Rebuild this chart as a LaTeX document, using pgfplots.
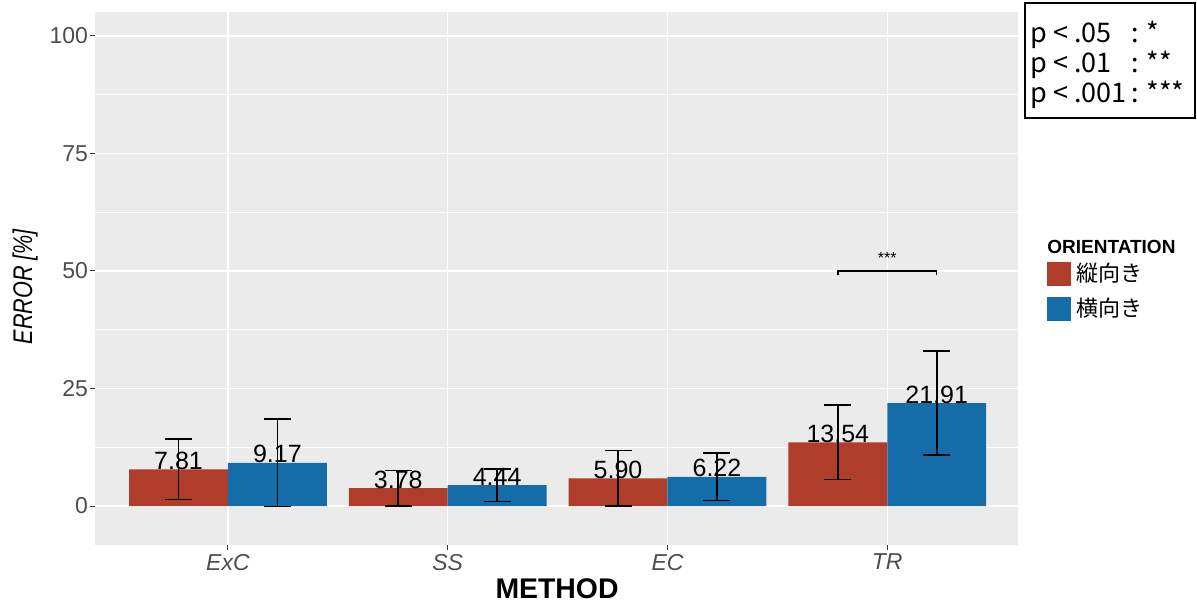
\documentclass[border=0pt]{standalone}
\usepackage{pgfplots}
\pgfplotsset{compat=1.18}
\usepackage{pgfplotstable}
\usetikzlibrary{calc}
\usepackage{fontspec}
\setmainfont{Liberation Sans}
\newfontfamily\jp{Noto Sans CJK JP}
\definecolor{panel}{HTML}{EBEBEB}
\definecolor{cred}{HTML}{B03C2A}
\definecolor{cblue}{HTML}{146CA8}
\definecolor{tickc}{HTML}{4D4D4D}
\definecolor{tickl}{HTML}{333333}

\pgfplotstableread{
x y e
0.775 7.81 6.45
1.775 3.78 3.80
2.775 5.90 5.90
3.775 13.54 7.90
}\tatetable
\pgfplotstableread{
x y e
1.225 9.17 9.30
2.225 4.44 3.50
3.225 6.22 5.03
4.225 21.91 11.10
}\yokotable

\begin{document}
\begin{tikzpicture}
\begin{axis}[
  name=ax,
  scale only axis, width=461.5pt, height=266.5pt,
  xmin=0.395, xmax=4.595, ymin=-8.3, ymax=105.1,
  axis background/.style={fill=panel},
  axis line style={draw=none},
  xtick={1,2,3,4}, xticklabels={ExC,SS,EC,TR},
  ytick={0,25,50,75,100},
  minor ytick={12.5,37.5,62.5,87.5},
  grid=both,
  major grid style={white, line width=0.7pt},
  minor grid style={white, line width=0.35pt},
  tick style={tickl, line width=0.5pt},
  major tick length=2.5pt, minor tick length=0pt,
  tick align=outside,
  xtick pos=left, ytick pos=left,
  /pgf/number format/assume math mode=true,
  x tick label style={font=\itshape\fontsize{11.5}{12}\selectfont, color=tickc, yshift=1.5pt},
  y tick label style={font=\fontsize{11.5}{12}\selectfont, color=tickc, xshift=2.5pt},
  xlabel={\textbf{METHOD}},
  ylabel={\textit{ERROR [\%]}},
  xlabel style={at={(axis description cs:0.5006,0)}, anchor=base, yshift=-26.5pt, font=\fontsize{14.2}{15}\selectfont},
  ylabel style={at={(axis description cs:-0.0758,0.485)}, anchor=center, font=\fontsize{13.5}{14}\selectfont, xscale=0.8},
  legend style={at={(axis description cs:1.0314,0.531)}, anchor=north west,
    draw=none, fill=none, inner sep=0pt, outer sep=0pt,
    font=\jp\fontsize{11}{12}\selectfont, row sep=5.5pt,
    nodes={inner sep=0pt},
    /tikz/every odd column/.append style={column sep=3pt}},
  legend cell align=left,
  clip=false,
]
\addplot[ybar, bar width=0.45, bar shift=0, fill=cred, draw=none,
  legend image code/.code={\fill[cred] (0pt,-6pt) rectangle (12pt,6pt);},
  nodes near coords={\pgfmathprintnumber[fixed,fixed zerofill,precision=2]{\pgfplotspointmeta}},
  every node near coord/.append style={anchor=base, inner sep=0pt, yshift=0pt, black, font=\fontsize{12.5}{13}\selectfont},
  error bars/.cd, y dir=both, y explicit,
  error bar style={black, line width=0.85pt},
  error mark options={rotate=90, mark size=6.75pt, black, line width=0.85pt},
  ] table[x=x, y=y, y error=e] {\tatetable};
\addlegendentry{縦向き}
\addplot[ybar, bar width=0.45, bar shift=0, fill=cblue, draw=none,
  legend image code/.code={\fill[cblue] (0pt,-6pt) rectangle (12pt,6pt);},
  nodes near coords={\pgfmathprintnumber[fixed,fixed zerofill,precision=2]{\pgfplotspointmeta}},
  every node near coord/.append style={anchor=base, inner sep=0pt, yshift=0pt, black, font=\fontsize{12.5}{13}\selectfont},
  error bars/.cd, y dir=both, y explicit,
  error bar style={black, line width=0.85pt},
  error mark options={rotate=90, mark size=6.75pt, black, line width=0.85pt},
  ] table[x=x, y=y, y error=e] {\yokotable};
\addlegendentry{横向き}
\addplot[black, line width=0.7pt, no marks, forget plot] coordinates {(3.775,49.1) (3.775,50) (4.225,50) (4.225,49.1)};
\node[font=\fontsize{8}{8}\selectfont, inner sep=0pt] at (axis cs:4,52.8) {***};
\node[anchor=west, inner sep=0pt, font=\bfseries\fontsize{9.5}{10}\selectfont] at (axis description cs:1.0314,0.559) {ORIENTATION};
\coordinate (SW) at (rel axis cs:0,0);
\end{axis}
\pgfresetboundingbox
\path[use as bounding box] ($(SW)+(-47.5pt,-28.5pt)$) rectangle ++(598.5pt,301pt);
\coordinate (O) at ($(SW)+(-47.5pt,-28.5pt)$);
\draw[black, line width=0.6pt] ($(O)+(512.5pt,242pt)$) rectangle ($(O)+(597.5pt,299.5pt)$);
\node[anchor=west, inner sep=0pt, font=\jp\fontsize{13.5}{14.2}\selectfont] at ($(O)+(515pt,268pt)$)
  {\begin{tabular}{@{}l@{\,}l@{}}p < .05 & : *\\ p < .01 & : **\\ p < .001 & : ***\end{tabular}};
\end{tikzpicture}
\end{document}
